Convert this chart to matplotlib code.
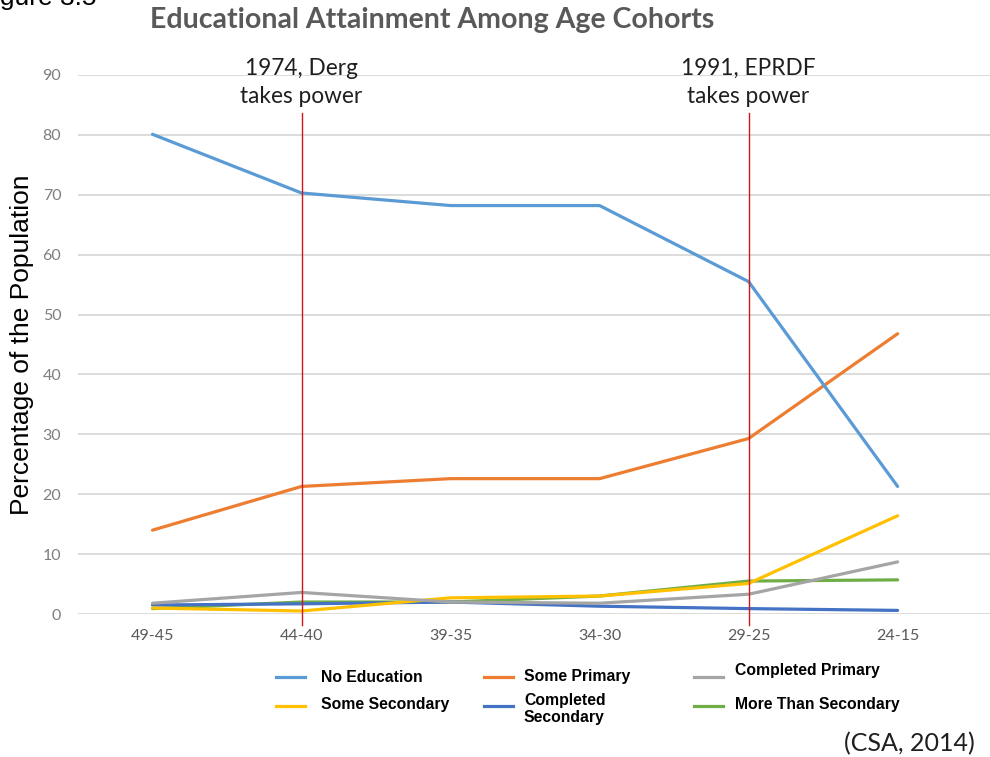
import matplotlib
matplotlib.use("Agg")
import matplotlib.pyplot as plt
from matplotlib.lines import Line2D

# Age cohorts (oldest to youngest)
cohorts = ["49-45", "44-40", "39-35", "34-30", "29-25", "24-15"]

# Share of each cohort by highest level of education (%)
no_education = [80.1, 70.3, 68.2, 68.2, 55.5, 21.3]
some_primary = [14.0, 21.3, 22.6, 22.6, 29.3, 46.8]
completed_primary = [1.8, 3.6, 2.0, 1.8, 3.3, 8.7]
some_secondary = [1.0, 0.5, 2.7, 3.0, 5.1, 16.4]
completed_secondary = [1.5, 1.7, 2.0, 1.3, 0.9, 0.6]
more_than_secondary = [0.9, 2.0, 2.0, 3.0, 5.5, 5.7]

series_names = ["No Education", "Some Primary", "Completed Primary",
                "Some Secondary", "Completed\nSecondary", "More Than Secondary"]
series_values = [no_education, some_primary, completed_primary,
                 some_secondary, completed_secondary, more_than_secondary]
series_colors = ["#5B9BD5", "#ED7D31", "#A5A5A5", "#FFC000", "#4472C4", "#70AD47"]

# Political events marked on the cohort axis
event_cohorts = ["44-40", "29-25"]
event_labels = ["1974, Derg\ntakes power", "1991, EPRDF\ntakes power"]

W, H = 990, 757
fig = plt.figure(figsize=(W / 100, H / 100), dpi=100)
ax = fig.add_axes([78 / W, 1 - 614 / H, 1 - 78 / W, (614 - 75) / H])

x = list(range(len(cohorts)))
order = [5, 4, 3, 2, 1, 0]
for i in order:
    ax.plot(x, series_values[i], color=series_colors[i], lw=2.3,
            solid_capstyle="round", solid_joinstyle="round", zorder=3 + (5 - i) * 0.1)

ax.set_xlim(-0.5, 5.62)
ax.set_ylim(0, 90)
ax.set_yticks(range(0, 91, 10))
ax.set_xticks(x)
ax.set_xticklabels(cohorts)
ax.grid(axis="y", color="#D9D9D9", lw=1.3)
ax.set_axisbelow(True)
for s in ax.spines.values():
    s.set_visible(False)
ax.tick_params(length=0)
ax.tick_params(axis="y", colors="#7F7F7F", labelsize=11.5, pad=12)
ax.tick_params(axis="x", colors="#595959", labelsize=11.5, pad=11)
for lab in ax.get_yticklabels() + ax.get_xticklabels():
    lab.set_fontfamily("Lato")

ax.set_ylabel("Percentage of the Population", fontsize=19,
              family="Liberation Sans", color="black")
ax.yaxis.set_label_coords(-44 / (W - 78), 0.5)

# Event markers
for c, label in zip(event_cohorts, event_labels):
    xi = cohorts.index(c)
    ax.plot([xi, xi], [-1.8, 83.6], color="#D0161B", lw=1.0, zorder=5, clip_on=False)
    ax.text(xi, 84.6, label, ha="center", va="bottom", fontsize=16.3,
            family="Lato", color="#1F1F1F", linespacing=1.45)

fig.text(432 / W, 1 - 20 / H, "Educational Attainment Among Age Cohorts",
         ha="center", va="center", fontsize=20.5, fontweight="bold",
         family="Lato", color="#595959")
fig.text(-22 / W, 1 + 2 / H, "Figure 3.5", ha="left", va="center",
         fontsize=19, family="Liberation Sans", color="black")
fig.text(975 / W, 1 - 744 / H, "(CSA, 2014)", ha="right", va="center",
         fontsize=18, family="Lato", color="#1F1F1F")

# Legend, three columns by two rows
legend_handle_x = [276, 484, 694, 276, 484, 694]
legend_text_x = [321, 524, 735, 321, 524, 735]
legend_y = [677, 677, 671, 705, 709, 704]
for i in range(len(series_names)):
    hy = 1 - (677 if i < 3 else 706) / H
    fig.add_artist(Line2D([legend_handle_x[i] / W, (legend_handle_x[i] + 29) / W],
                          [hy, hy], color=series_colors[i], lw=2.3))
    fig.text(legend_text_x[i] / W, 1 - legend_y[i] / H, series_names[i],
             ha="left", va="center", fontsize=11.3, fontweight="bold",
             family="Liberation Sans", color="black", linespacing=1.1)

fig.savefig("out.png", dpi=100)
